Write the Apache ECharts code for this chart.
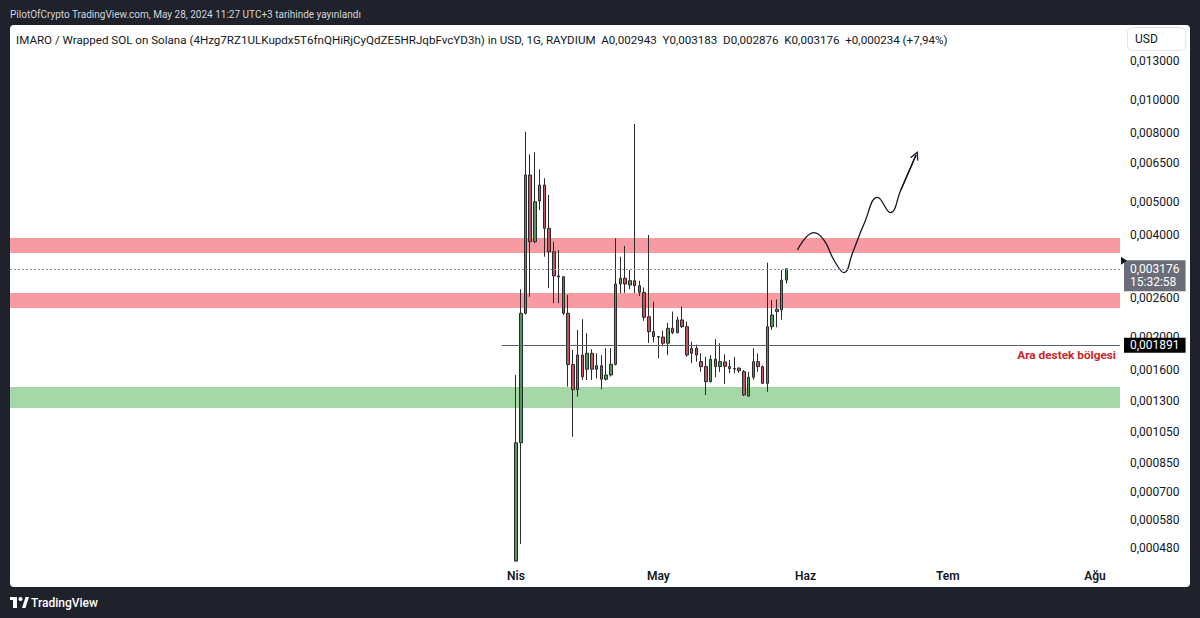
<!DOCTYPE html>
<html><head><meta charset="utf-8">
<script src="https://cdn.jsdelivr.net/npm/echarts@6/dist/echarts.min.js"></script>
<style>
html,body{margin:0;padding:0;background:#1f222a;}
#wrap{position:relative;width:1200px;height:618px;background:#1f222a;overflow:hidden;}
#panel{position:absolute;left:10px;top:25px;width:1180px;height:562px;background:#fff;border-radius:4px;}
#chart{position:absolute;left:0;top:0;width:1200px;height:618px;}
</style></head><body>
<div id="wrap"><div id="panel"></div><div id="chart"></div></div>
<script>
// ---- data ----
const dates = ['2024-04-01','2024-04-02','2024-04-03','2024-04-04','2024-04-05','2024-04-06','2024-04-07','2024-04-08','2024-04-09','2024-04-10',
'2024-04-11','2024-04-12','2024-04-13','2024-04-14','2024-04-15','2024-04-16','2024-04-17','2024-04-18','2024-04-19','2024-04-20',
'2024-04-21','2024-04-22','2024-04-23','2024-04-24','2024-04-25','2024-04-26','2024-04-27','2024-04-28','2024-04-29','2024-04-30',
'2024-05-01','2024-05-02','2024-05-03','2024-05-04','2024-05-05','2024-05-06','2024-05-07','2024-05-08','2024-05-09','2024-05-10',
'2024-05-11','2024-05-12','2024-05-13','2024-05-14','2024-05-15','2024-05-16','2024-05-17','2024-05-18','2024-05-19','2024-05-20',
'2024-05-21','2024-05-22','2024-05-23','2024-05-24','2024-05-25','2024-05-26','2024-05-27','2024-05-28'];
const opens = [0.000438,0.000977,0.00235,0.006,0.003818,0.005032,0.005608,0.004182,0.003568,0.003027,
0.003012,0.00235,0.00166,0.0014,0.00177,0.001608,0.001792,0.001608,0.001647,0.001503,
0.001547,0.001663,0.002866,0.00298,0.002847,0.002931,0.002833,0.002709,0.002296,0.002075,
0.002006,0.002,0.001918,0.002123,0.00206,0.002246,0.002146,0.001792,0.001854,0.001693,
0.001637,0.001478,0.00172,0.001637,0.00169,0.001637,0.001615,0.00162,0.001582,0.00134,
0.001523,0.001693,0.001637,0.001462,0.002146,0.002377,0.002404,0.002943];
const closes = [0.000977,0.00235,0.006002,0.003818,0.005008,0.005608,0.004182,0.003568,0.003027,0.003005,
0.00235,0.00166,0.0014,0.001772,0.001529,0.001792,0.001608,0.001647,0.001503,0.001547,
0.001663,0.002866,0.00298,0.002866,0.002931,0.002833,0.002709,0.002287,0.002075,0.002006,
0.002,0.001918,0.002123,0.00206,0.002246,0.002146,0.001772,0.001854,0.001772,0.001637,
0.001478,0.00172,0.001637,0.001693,0.00164,0.001615,0.00161,0.001593,0.001351,0.001523,
0.001693,0.001637,0.001462,0.002146,0.002323,0.002415,0.002943,0.003176];
const lows = [0.000436,0.000492,0.00233,0.00263,0.00378,0.004733,0.003449,0.002785,0.002515,0.002515,
0.00232,0.001429,0.001018,0.001335,0.001495,0.001495,0.001495,0.001512,0.001404,0.00149,
0.00153,0.00165,0.002691,0.0027,0.00277,0.002691,0.00264,0.002234,0.001922,0.00193,
0.001732,0.00188,0.00177,0.00204,0.002052,0.00213,0.00175,0.001675,0.001693,0.001582,
0.001351,0.00147,0.001523,0.00158,0.001455,0.001565,0.001565,0.00157,0.00134,0.00134,
0.0015,0.00158,0.001455,0.00138,0.0021,0.002137,0.00225,0.002876];
const highs = [0.001547,0.002765,0.00805,0.006907,0.007,0.006239,0.00587,0.00524,0.003818,0.003609,
0.00302,0.002661,0.001833,0.002099,0.002257,0.002053,0.001841,0.001792,0.00177,0.001854,
0.001854,0.003908,0.003449,0.003709,0.003153,0.008481,0.00293,0.0028,0.003996,0.002542,
0.002012,0.00209,0.002205,0.002377,0.002296,0.002458,0.00222,0.001939,0.0019,0.001792,
0.00175,0.00177,0.001971,0.001918,0.00178,0.001712,0.00175,0.00163,0.0016,0.00158,
0.001854,0.00179,0.00165,0.003313,0.002571,0.00258,0.003153,0.003183];

const priceTicks = [0.013,0.010,0.008,0.0065,0.005,0.004,0.0026,0.002,0.0016,0.0013,0.00105,0.00085,0.0007,0.00058,0.00048];
const monthTicks = ['2024-04-01','2024-05-01','2024-06-01','2024-07-01','2024-08-01'];
const monthNames = ['Oca','Şub','Mar','Nis','May','Haz','Tem','Ağu','Eyl','Eki','Kas','Ara'];

// zones (low, high) and levels
const resistanceZones = [[0.003537,0.003916],[0.002436,0.002696]];
const supportZone = [0.001237,0.001426];
const lastPrice = 0.003176;
const lastPriceLabel = '0,003176';
const countdown = '15:32:58';
const supportLevel = 0.001891;
const supportLabel = 'Ara destek bölgesi';
const supportStart = '2024-03-29';

// hand-drawn projection path: days after Apr 1, price
const drawDays = [59.3,62.8,64.9,67.0,69.15,70.9,73.4,76.2,78.9,81.1,84.3];
const drawPrices = [0.003609,0.004059,0.003862,0.003373,0.003094,0.00353,0.004327,0.00516,0.004649,0.005421,0.006873];

const headerText = 'PilotOfCrypto TradingView.com, May 28, 2024 11:27 UTC+3 tarihinde yayınlandı';
const legendText = 'IMARO / Wrapped SOL on Solana (4Hzg7RZ1ULKupdx5T6fnQHiRjCyQdZE5HRJqbFvcYD3h) in USD, 1G, RAYDIUM  A0,002943  Y0,003183  D0,002876  K0,003176  +0,000234 (+7,94%)';

// ---- build ----
const DAY = 86400000;
const t = s => Date.parse(s + 'T00:00:00Z');
const apr1 = t('2024-04-01');
const xMin = apr1 - 106.64 * DAY;
const xMax = apr1 + 127.29 * DAY;
const yMin = 0.00043229, yMax = 0.016594;
const FONT = 'Roboto, "Noto Sans", sans-serif';
const fmtPrice = v => Number(v).toFixed(6).replace('.', ',');

const candleData = dates.map((d, i) => [t(d), opens[i], closes[i], lows[i], highs[i]]);
const drawData = drawDays.map((d, i) => [apr1 + d * DAY, drawPrices[i]]);
const nD = drawData.length;

const chart = echarts.init(document.getElementById('chart'), null, {renderer: 'svg'});
const baseGraphics = [
  {type: 'text', x: 10, y: 14, style: {text: headerText, fill: '#d1d4dc', font: '10px ' + FONT, verticalAlign: 'middle'}},
  {type: 'text', x: 16, y: 40, style: {text: legendText, fill: '#131722', font: '11.6px ' + FONT, verticalAlign: 'middle'}},
  {type: 'rect', shape: {x: 1127.5, y: 27.5, width: 58, height: 23, r: 5}, style: {fill: '#ffffff', stroke: '#e0e3eb', lineWidth: 1}},
  {type: 'text', x: 1135, y: 39, style: {text: 'USD', fill: '#131722', font: '12px ' + FONT, verticalAlign: 'middle'}},
  {type: 'rect', shape: {x: 10, y: 597, width: 7, height: 3}, style: {fill: '#ffffff'}},
  {type: 'rect', shape: {x: 13, y: 597, width: 4, height: 11}, style: {fill: '#ffffff'}},
  {type: 'circle', shape: {cx: 20.5, cy: 599, r: 2}, style: {fill: '#ffffff'}},
  {type: 'polygon', shape: {points: [[22, 608], [25.5, 597], [29, 597], [25.5, 608]]}, style: {fill: '#ffffff'}},
  {type: 'text', x: 31, y: 603, style: {text: 'TradingView', fill: '#ffffff', font: '500 12px ' + FONT, verticalAlign: 'middle'}}
];

chart.setOption({
  animation: false,
  backgroundColor: 'transparent',
  textStyle: {fontFamily: FONT},
  grid: {left: 10, right: 80, top: 25, bottom: 55},
  xAxis: {
    type: 'value', min: xMin, max: xMax,
    axisLine: {show: false}, axisTick: {show: false}, splitLine: {show: false},
    axisLabel: {
      customValues: monthTicks.map(t),
      formatter: v => monthNames[new Date(v).getUTCMonth()],
      color: '#131722', fontSize: 12, fontWeight: 600, margin: 7, fontFamily: FONT
    }
  },
  yAxis: {
    type: 'log', logBase: 10, position: 'right', min: yMin, max: yMax,
    axisLine: {show: false}, axisTick: {show: false}, splitLine: {show: false},
    axisLabel: {
      customValues: priceTicks,
      formatter: v => fmtPrice(v),
      color: '#131722', fontSize: 12, margin: 10, align: 'left', fontFamily: FONT
    }
  },
  series: [
    {
      type: 'candlestick',
      data: candleData.map(r => [r[0], r[1], r[2], r[3], r[4]]),
      encode: {x: 0, y: [1, 2, 3, 4]},
      barWidth: 3, barMaxWidth: 3,
      itemStyle: {color: '#4e9a54', color0: '#c9515f', borderColor: '#2a2a2a', borderColor0: '#2a2a2a', borderWidth: 1},
      markArea: {
        silent: true,
        data: [
          [{yAxis: resistanceZones[0][0], itemStyle: {color: 'rgba(242,54,69,0.5)'}}, {yAxis: resistanceZones[0][1]}],
          [{yAxis: resistanceZones[1][0], itemStyle: {color: 'rgba(242,54,69,0.5)'}}, {yAxis: resistanceZones[1][1]}],
          [{yAxis: supportZone[0], itemStyle: {color: 'rgba(76,175,80,0.5)'}}, {yAxis: supportZone[1]}]
        ]
      },
      markLine: {
        silent: true, symbol: ['none', 'none'],
        data: [
          [{coord: [xMin, lastPrice], lineStyle: {type: [2, 2], color: '#8a8d96', width: 1},
            label: {show: true, position: 'end', formatter: lastPriceLabel + '\n' + countdown, backgroundColor: '#6a6d78',
                    color: '#ffffff', padding: [3, 6, 2, 6], lineHeight: 13, fontSize: 12, distance: 4, offset: [0, 7], fontFamily: FONT}},
           {coord: [xMax, lastPrice]}],
          [{coord: [t(supportStart), supportLevel], lineStyle: {type: 'solid', color: '#5d606b', width: 1.2},
            label: {show: true, position: 'end', formatter: fmtPrice(supportLevel), backgroundColor: '#000000',
                    color: '#ffffff', padding: [2, 6, 1, 6], fontSize: 12, distance: 4, fontFamily: FONT}},
           {coord: [xMax, supportLevel]}],
          [{coord: [t(supportStart), supportLevel], lineStyle: {color: 'rgba(0,0,0,0)', width: 0},
            label: {show: true, position: 'insideEndBottom', formatter: supportLabel, color: '#c62828',
                    fontWeight: 'bold', fontSize: 11.8, distance: 4, fontFamily: FONT}},
           {coord: [xMax, supportLevel]}]
        ]
      },
      z: 3
    },
    {
      type: 'line', data: drawData, smooth: 0.45, showSymbol: false, silent: true,
      lineStyle: {color: '#131722', width: 1.3},
      markLine: {
        silent: true, symbol: ['none', 'path://M0,10L5,0L10,10L8.4,10L5,3.2L1.6,10Z'], symbolSize: 9,
        lineStyle: {color: '#131722', width: 1.3, type: 'solid'}, label: {show: false},
        data: [[{coord: drawData[nD - 2]}, {coord: drawData[nD - 1]}]]
      },
      z: 4
    }
  ],
  graphic: baseGraphics
});

// small marker at the price scale edge for the last price
const lp = chart.convertToPixel({xAxisIndex: 0, yAxisIndex: 0}, [xMax, lastPrice]);
chart.setOption({graphic: baseGraphics.concat([
  {type: 'polygon', shape: {points: [[lp[0] + 1, lp[1] - 12], [lp[0] + 7, lp[1] - 8], [lp[0] + 1, lp[1] - 4]]}, style: {fill: '#131722'}, z: 10}
])});
</script>
</body></html>
